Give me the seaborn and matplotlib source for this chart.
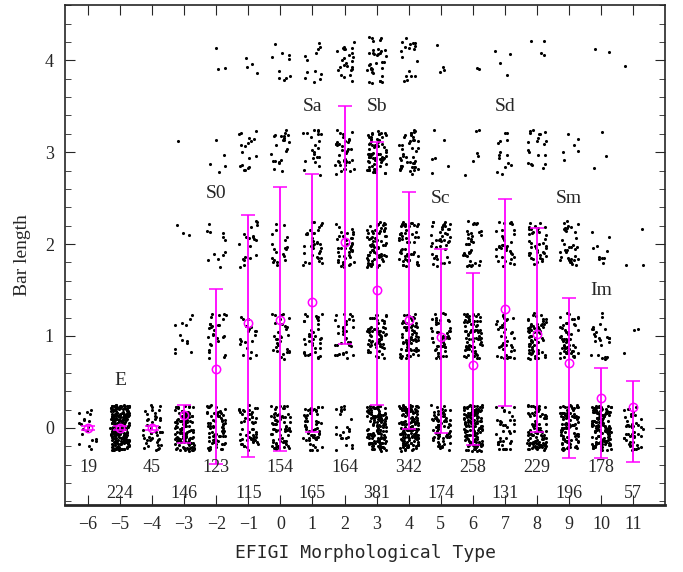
import numpy as np
import pandas as pd
import seaborn as sns
import matplotlib.pyplot as plt
from matplotlib.ticker import MultipleLocator

# EFIGI types and number of galaxies per bar-length class (0..4)
types = [-6, -5, -4, -3, -2, -1, 0, 1, 2, 3, 4, 5, 6, 7, 8, 9, 10, 11]
n_total = [19, 224, 45, 146, 123, 115, 154, 165, 164, 381, 342, 174, 258, 131, 229, 196, 178, 57]
n_bar0 = [19, 224, 45, 130, 75, 53, 71, 58, 24, 140, 150, 70, 140, 38, 95, 100, 138, 50]
n_bar1 = [0, 0, 0, 12, 28, 20, 31, 38, 35, 65, 72, 52, 75, 40, 70, 55, 25, 3]
n_bar2 = [0, 0, 0, 3, 12, 20, 20, 35, 40, 70, 58, 42, 35, 35, 40, 35, 10, 3]
n_bar3 = [0, 0, 0, 1, 5, 18, 22, 22, 40, 72, 44, 6, 6, 14, 20, 6, 3, 0]
n_bar4 = [0, 0, 0, 0, 3, 4, 10, 12, 25, 34, 18, 4, 2, 4, 4, 0, 2, 1]

# mean bar length and the ends of the magenta bars
mean_bar = [0.0, 0.0, 0.0, 0.14, 0.64, 1.14, 1.17, 1.37, 2.02, 1.50, 1.17, 0.99, 0.68, 1.29, 1.02, 0.71, 0.33, 0.23]
bar_hi = [0.02, 0.02, 0.02, 0.25, 1.51, 2.32, 2.62, 2.76, 3.50, 3.11, 2.57, 1.95, 1.69, 2.49, 2.17, 1.41, 0.65, 0.51]
bar_lo = [-0.02, -0.02, -0.02, -0.16, -0.39, -0.32, -0.25, -0.05, 0.91, 0.25, -0.01, -0.06, -0.19, 0.24, -0.04, -0.33, -0.33, -0.37]

# class names and where they sit
class_names = ['E', 'S0', 'Sa', 'Sb', 'Sc', 'Sd', 'Sm', 'Im']
class_x = [-5, -2, 1, 3, 5, 7, 9, 10]
class_y = [0.52, 2.55, 3.5, 3.5, 2.5, 3.5, 2.5, 1.5]

# one row per galaxy
rows = []
for lvl, counts in enumerate([n_bar0, n_bar1, n_bar2, n_bar3, n_bar4]):
    for t, n in zip(types, counts):
        rows += [(t, lvl)] * n
df = pd.DataFrame(rows, columns=['type', 'bar'])

sns.set_style('ticks')
plt.rcParams['font.family'] = ['Liberation Serif', 'DejaVu Serif']

fig = plt.figure(figsize=(6.83, 5.72), dpi=100)
ax = fig.add_axes([0.095, 0.117, 0.879, 0.874])

np.random.seed(3)
sns.regplot(data=df, x='type', y='bar', fit_reg=False, x_jitter=0.3, y_jitter=0.25,
            scatter_kws={'s': 5, 'color': 'black', 'linewidths': 0, 'alpha': 1}, ax=ax)

mean_arr = np.array(mean_bar)
yerr = [mean_arr - np.array(bar_lo), np.array(bar_hi) - mean_arr]
ax.errorbar(types, mean_bar, yerr=yerr, fmt='o', mfc='none', mec='#ff00ff', ms=6, mew=1.1,
            ecolor='#ff00ff', elinewidth=1.3, capsize=5, capthick=1.3)

for i, (t, n) in enumerate(zip(types, n_total)):
    ax.text(t, -0.43 if i % 2 == 0 else -0.71, str(n), ha='center', va='center', fontsize=13)

for name, x, y in zip(class_names, class_x, class_y):
    ax.text(x, y, name, ha='center', va='center', fontsize=14)

ax.set_xlim(-6.72, 12.0)
ax.set_ylim(-0.84, 4.6)
ax.set_xticks(types)
ax.set_xticklabels([str(t).replace('-', '\u2212') for t in types])
ax.yaxis.set_major_locator(MultipleLocator(1))
ax.yaxis.set_minor_locator(MultipleLocator(0.2))
ax.tick_params(which='both', direction='in', top=True, right=True, labelsize=13)
ax.tick_params(which='major', length=7)
ax.tick_params(which='minor', length=4)
ax.tick_params(axis='x', pad=8)
ax.tick_params(axis='y', pad=8)
for s in ax.spines.values():
    s.set_linewidth(1.2)
ax.spines['bottom'].set_linewidth(2)

ax.set_xlabel('EFIGI Morphological Type', fontsize=13, family='DejaVu Sans Mono', labelpad=8)
ax.set_ylabel('Bar length', fontsize=14, labelpad=10)

plt.savefig('out.png', dpi=100)
